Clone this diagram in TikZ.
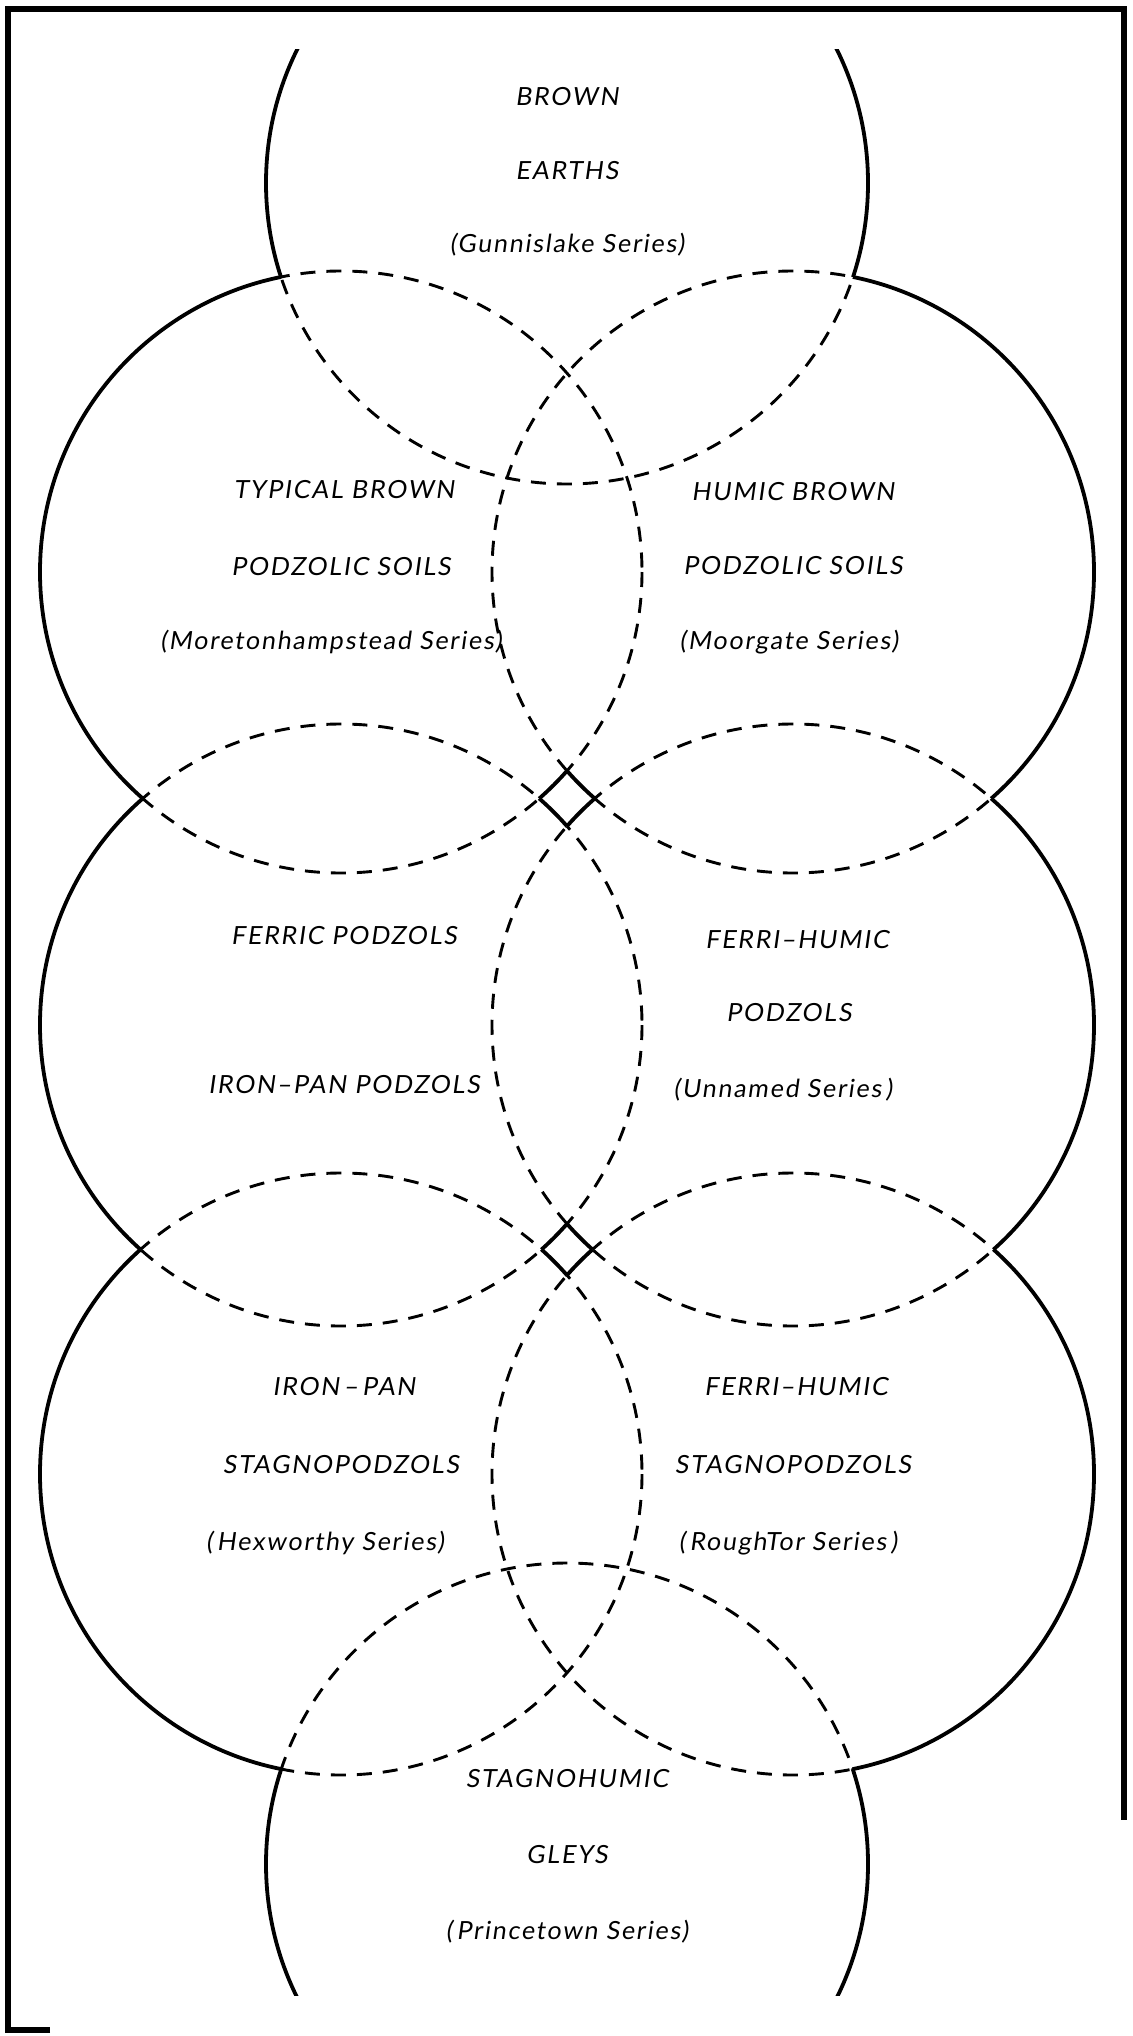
\documentclass[tikz,border=0pt]{standalone}
\usepackage{fontspec}
\newfontfamily\lab{Lato}[FakeSlant=0.14,LetterSpace=7,Ligatures=TeX]
\begin{document}
\begin{tikzpicture}[x=1pt,y=-1pt]
\useasboundingbox (0,0) rectangle (1132,2036);
\def\R{301}
\coordinate (T) at (567,183);
\coordinate (A) at (341,572);
\coordinate (B) at (793,572);
\coordinate (C) at (341,1025);
\coordinate (D) at (793,1025);
\coordinate (E) at (341,1474);
\coordinate (F) at (793,1474);
\coordinate (G) at (567,1864);
\tikzset{
  solidline/.style={line width=3.8pt},
  dashline/.style={line width=2.9pt, dash pattern=on 15pt off 11pt},
  frameline/.style={line width=5.5pt},
  lbl/.style={font=\lab\fontsize{25}{30}\selectfont, inner sep=0pt, anchor=base}
}
\newcommand\clipout[1]{\clip (-300,-300) rectangle (1500,2400) (#1) circle (\R);}
% frame
\draw[frameline] (50,2030) -- (8,2030) -- (8,9) -- (1124,9) -- (1124,1820);
\begin{scope}
\clip (0,50) rectangle (1132,1995);
% dashed interior parts
\foreach \c/\o in {T/{A,B},A/{T,B,C,D},B/{T,A,C,D},C/{A,B,D,E,F},D/{A,B,C,E,F},E/{C,D,F,G},F/{C,D,E,G},G/{E,F}}{
  \begin{scope}
    \clip \foreach \k in \o {(\k) circle (\R)};
    \draw[dashline] (\c) circle (\R);
  \end{scope}
}
% solid outer parts
\begin{scope}[even odd rule]
 \clipout{A}\clipout{B}
 \draw[solidline] (T) circle (\R);
\end{scope}
\begin{scope}[even odd rule]
 \clipout{T}\clipout{B}\clipout{C}\clipout{D}
 \draw[solidline] (A) circle (\R);
\end{scope}
\begin{scope}[even odd rule]
 \clipout{T}\clipout{A}\clipout{C}\clipout{D}
 \draw[solidline] (B) circle (\R);
\end{scope}
\begin{scope}[even odd rule]
 \clipout{A}\clipout{B}\clipout{D}\clipout{E}\clipout{F}
 \draw[solidline] (C) circle (\R);
\end{scope}
\begin{scope}[even odd rule]
 \clipout{A}\clipout{B}\clipout{C}\clipout{E}\clipout{F}
 \draw[solidline] (D) circle (\R);
\end{scope}
\begin{scope}[even odd rule]
 \clipout{C}\clipout{D}\clipout{F}\clipout{G}
 \draw[solidline] (E) circle (\R);
\end{scope}
\begin{scope}[even odd rule]
 \clipout{C}\clipout{D}\clipout{E}\clipout{G}
 \draw[solidline] (F) circle (\R);
\end{scope}
\begin{scope}[even odd rule]
 \clipout{E}\clipout{F}
 \draw[solidline] (G) circle (\R);
\end{scope}
\end{scope}
% labels
\node[lbl] (t1) at (567,106) {BROWN};
\node[lbl] (t2) at (567,180) {EARTHS};
\node[lbl] (t3) at (567,253) {(Gunnislake Series)};
\node[lbl] (a1) at (344,498) {TYPICAL BROWN};
\node[lbl] (a2) at (341,575) {PODZOLIC SOILS};
\node[lbl] (a3) at (331,649) {(Moretonhampstead Series)};
\node[lbl] (b1) at (793,500) {HUMIC BROWN};
\node[lbl] (b2) at (793,574) {PODZOLIC SOILS};
\node[lbl] (b3) at (789,649) {(Moorgate Series)};
\node[lbl] (c1) at (344,944) {FERRIC PODZOLS};
\node[lbl] (c2) at (344,1093) {IRON--PAN PODZOLS};
\node[lbl] (d1) at (797,948) {FERRI--HUMIC};
\node[lbl] (d2) at (789,1021) {PODZOLS};
\node[lbl] (d3) at (783,1097) {(Unnamed Series\,)};
\node[lbl] (e1) at (344,1395) {IRON\,--\,PAN};
\node[lbl] (e2) at (341,1473) {STAGNOPODZOLS};
\node[lbl] (e3) at (325,1550) {(\,Hexworthy Series)};
\node[lbl] (f1) at (796,1395) {FERRI--HUMIC};
\node[lbl] (f2) at (793,1473) {STAGNOPODZOLS};
\node[lbl] (f3) at (788,1550) {(\,RoughTor Series\,)};
\node[lbl] (g1) at (567,1787) {STAGNOHUMIC};
\node[lbl] (g2) at (567,1863) {GLEYS};
\node[lbl] (g3) at (567,1939) {(\,Princetown Series)};
\end{tikzpicture}
\end{document}
